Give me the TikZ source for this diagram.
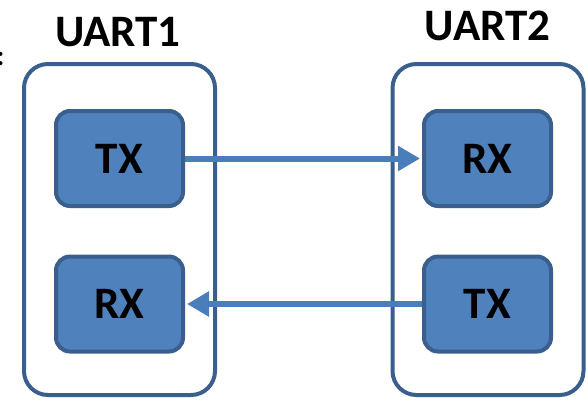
\documentclass[tikz,border=0pt]{standalone}
\usepackage{fontspec}
\setmainfont{Carlito}
\usetikzlibrary{arrows.meta}
\definecolor{boxfill}{HTML}{4F81BD}
\definecolor{boxline}{HTML}{3A5F8D}
\definecolor{linkblue}{HTML}{4A7EBB}
\tikzset{
  uart/.style={draw=boxline, line width=4pt, rounded corners=24pt,
    minimum width=191pt, minimum height=331pt, inner sep=0pt},
  pin/.style={draw=boxline, fill=boxfill, line width=4pt, rounded corners=14pt,
    minimum width=127pt, minimum height=95pt, inner sep=0pt,
    font=\fontsize{45}{45}\selectfont\bfseries},
  title/.style={font=\fontsize{45}{45}\selectfont\bfseries, inner sep=0pt},
  link/.style={draw=linkblue, line width=6pt,
    -{Triangle[length=22pt,width=24pt]}, shorten >=2pt},
}
\begin{document}
\begin{tikzpicture}[x=1pt, y=-1pt]
  \useasboundingbox (0,0) rectangle (588,400);
  % colon at the left edge, only its right half lies on the page
  \node[font=\fontsize{28}{28}\selectfont\bfseries, inner sep=0pt, anchor=base]
    (colon) at (0.5,65) {:};
  % device outlines
  \node[uart] (u1) at (119.5,229.5) {};
  \node[uart] (u2) at (488,229.5) {};
  \node[title] (t1) at (118,32.5) {UART1};
  \node[title] (t2) at (487.5,26) {UART2};
  % pins
  \node[pin] (tx1) at (119.5,158.5) {TX};
  \node[pin] (rx1) at (119.5,304) {RX};
  \node[pin] (rx2) at (487.5,158.5) {RX};
  \node[pin] (tx2) at (487.5,304) {TX};
  % serial lines
  \draw[link] (tx1.east) -- (rx2.west);
  \draw[link] (tx2.west) -- (rx1.east);
\end{tikzpicture}
\end{document}
